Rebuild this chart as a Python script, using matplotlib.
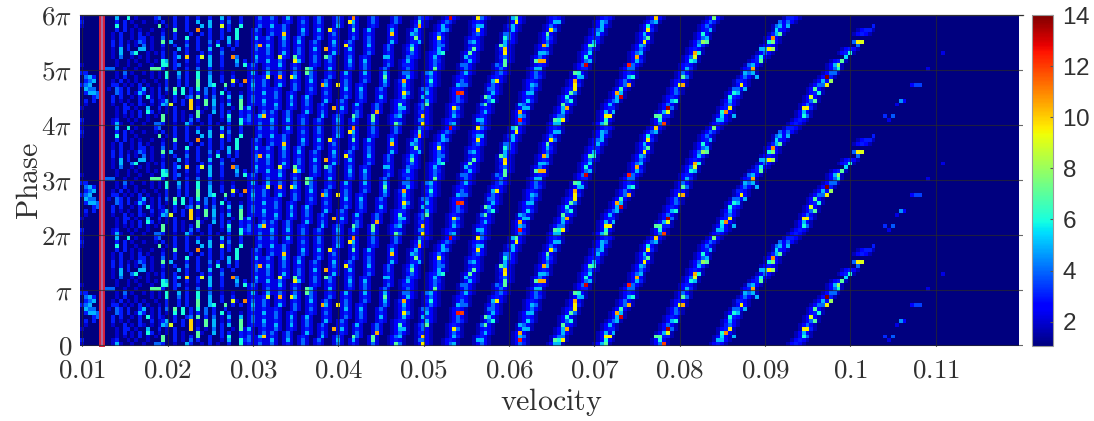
import matplotlib
matplotlib.use("Agg")
import matplotlib.pyplot as plt
import numpy as np

plt.rcParams['mathtext.fontset'] = 'cm'
plt.rcParams['font.family'] = 'serif'
plt.rcParams['font.serif'] = ['cmr10', 'DejaVu Serif']
plt.rcParams['axes.formatter.use_mathtext'] = True

x_ticks = [0.01, 0.02, 0.03, 0.04, 0.05, 0.06, 0.07, 0.08, 0.09, 0.1, 0.11]
x_labels = ['0.01', '0.02', '0.03', '0.04', '0.05', '0.06', '0.07', '0.08', '0.09', '0.1', '0.11']
y_labels = [r'$0$', r'$\pi$', r'$2\pi$', r'$3\pi$', r'$4\pi$', r'$5\pi$', r'$6\pi$']
cbar_ticks = [2, 4, 6, 8, 10, 12, 14]

n_cols = 242
n_rows = 28   # one 2pi period, the picture repeats it three times

# low velocity part, one string per phase row, "col:hex level"
left_rows = [
    "0:2 8:2 9:5 10:2 13:2 16:2 19:4 20:4 21:3 24:2 27:5 28:3 31:2 33:3 35:2 38:3 41:6 42:2",
    "0:3 8:2 9:3 12:2 14:2 17:2 21:7 24:3 26:2 28:4 30:3 33:3 36:2 38:5 41:6 42:3",
    "9:2 11:2 13:2 15:3 17:2 19:2 21:7 24:3 26:2 28:3 30:7 33:3 36:3 38:6 41:3",
    "9:2 11:3 13:2 15:3 17:6 18:3 20:2 22:2 24:3 26:2 30:7 31:2 34:5 36:3 38:3 41:3",
    "0:2 9:2 11:3 12:3 14:2 17:5 20:3 22:2 24:3 28:a 30:3 32:2 34:4 36:3 39:2 41:7 42:2",
    "1:2 8:2 11:3 13:2 15:3 16:2 18:2 20:2 21:5 22:4 23:9 26:3 28:a 30:2 32:7 34:5 36:3 38:5 41:7",
    "1:3 3:3 8:3 10:2 12:2 15:3 18:3 20:2 21:3 22:5 24:3 26:3 28:a 30:2 32:7 34:5 36:2 38:3 41:7",
    "3:3 4:4 8:3 10:3 13:2 15:3 17:6 18:2 20:3 21:2 24:3 27:3 28:4 30:7 32:3 34:4 36:2 38:5 41:5",
    "1:3 2:5 3:5 4:4 9:4 10:3 12:3 14:2 15:5 16:3 18:2 20:3 22:2 24:6 26:6 28:3 30:3 32:4 34:3 36:6 38:3 41:2",
    "1:5 2:4 3:4 7:2 9:4 10:3 12:3 15:3 16:5 18:2 20:3 22:4 24:7 26:6 28:3 30:6 32:4 34:3 37:3",
    "0:3 1:4 2:5 8:3 9:3 11:2 13:2 15:3 17:2 20:2 22:3 25:3 27:3 30:7 33:5 34:6 37:7 39:3 41:3",
    "1:3 2:4 3:5 8:2 10:3 12:2 14:2 16:2 19:2 22:3 25:3 27:3 30:7 33:5 36:3 39:9 40:2 42:b",
    "1:4 2:5 3:3 9:2 11:3 14:2 18:2 20:2 22:6 25:4 27:3 30:6 33:5 36:3 39:3",
    "0:3 1:3 9:2 11:4 13:2 16:2 18:2 20:2 22:6 25:5 27:3 30:6 33:4 36:2 39:2",
    "6:4 7:4 8:4 11:2 14:2 18:7 19:7 20:7 21:3 24:3 27:3 30:4 33:3 36:2",
    "0:2 9:2 12:2 15:2 18:2 21:6 22:6 24:3 25:4 27:2 30:2 33:5 36:3 40:4 42:6",
    "9:2 12:2 14:2 17:2 19:2 21:6 22:5 24:3 27:3 30:3 33:5 36:3 40:5 42:3",
    "8:2 10:4 13:2 15:2 17:2 21:3 24:3 25:5 27:a 30:3 31:9 33:5 36:3 39:b 40:4",
    "8:2 10:5 13:4 14:6 17:2 19:2 21:3 24:3 27:3 31:3 33:3 36:4",
    "8:2 10:5 12:3 15:5 16:5 18:2 21:2 25:5 27:3 30:3 33:5 36:3 39:3",
    "8:3 10:3 12:3 14:2 16:4 18:2 21:3 24:3 27:4 30:3 33:3 35:6 38:3 40:3",
    "8:3 10:3 12:2 14:2 15:4 16:3 18:2 21:7 23:5 27:3 30:3 33:4 35:3 38:5 40:3",
    "8:2 10:3 13:2 15:3 16:3 18:2 21:4 24:3 27:6 30:3 33:3 36:3 38:5 40:6",
    "8:2 10:3 13:2 15:3 17:2 21:3 24:3 28:3 31:3 33:3 36:3 40:6",
    "9:3 11:3 13:2 15:2 18:2 21:2 24:7 27:3 30:b 33:3 36:3 38:3 40:6",
    "0:2 9:6 11:3 14:2 20:7 22:2 24:3 27:3 31:5 33:5 36:9 38:3 41:6",
    "0:3 9:3 11:3 13:2 16:2 19:2 21:3 24:3 27:3 30:5 33:5 36:3 38:4 41:3",
    "0:2 9:5 12:6 14:2 19:3 20:4 24:3 27:3 30:3 33:3 36:5 38:3 41:3",
]

# ridge column in each phase row, one list per turn of the spiral
turn01 = [43,43,43,43,43,44,44,44,44,44,44,44,44,44,44,44,45,45,45,45,45,45,45,45,45,46,46,46]
turn02 = [46,46,46,47,47,47,47,47,47,47,47,47,47,48,48,48,48,48,48,48,48,48,48,49,49,49,49,49]
turn03 = [49,49,49,49,50,50,50,50,50,50,51,51,51,51,51,51,51,52,52,52,52,52,52,52,52,52,53,53]
turn04 = [53,53,53,53,54,54,54,54,54,55,55,55,55,55,55,55,56,56,56,56,56,56,56,57,57,57,57,57]
turn05 = [57,57,57,58,58,58,58,58,59,59,59,59,59,59,59,60,60,60,60,60,60,60,61,61,61,61,61,61]
turn06 = [61,61,62,62,62,62,63,63,63,63,63,63,64,64,64,64,64,64,65,65,65,65,65,65,65,66,66,66]
turn07 = [66,66,66,67,67,67,67,68,68,68,68,68,68,68,69,69,69,69,69,69,69,69,70,70,70,70,70,70]
turn08 = [70,70,71,71,71,71,72,72,72,72,72,73,73,73,73,73,73,73,74,74,74,74,74,74,74,75,75,75]
turn09 = [75,75,75,76,76,76,77,77,77,77,78,78,78,78,78,79,79,79,79,79,79,80,80,80,80,80,81,81]
turn10 = [81,81,81,82,82,82,82,83,83,83,83,83,84,84,84,84,84,85,85,85,85,86,86,86,86,87,87,88]
turn11 = [88,88,88,88,88,88,89,89,89,89,90,90,90,90,91,91,91,91,91,92,92,92,92,92,93,93,94,95]
turn12 = [95,95,96,96,96,96,97,97,97,97,98,98,98,99,99,99,100,100,100,101,101,101,101,102,102,102,102,103]
turn13 = [103,103,103,104,104,104,105,105,106,106,106,107,107,108,108,108,109,109,109,109,109,110,110,110,111,111,112,112]
turn14 = [113,113,113,113,114,114,115,115,115,116,116,116,117,117,117,118,118,118,119,119,119,120,120,120,121,121,122,122]
turn15 = [122,123,123,124,124,125,125,125,126,126,127,127,128,128,129,129,130,130,130,131,131,132,132,133,133,134,134,135]
turn16 = [134,135,135,135,136,136,137,138,138,139,140,140,141,141,141,142,143,143,143,144,144,145,145,145,146,146,147,148]
turn17 = [149,149,150,150,151,151,152,152,153,153,154,154,155,155,156,156,157,157,158,158,159,159,160,160,161,161,162,163]
turn18 = [164,165,165,166,166,167,167,168,168,169,170,170,171,172,172,173,174,175,176,177,177,178,178,179,180,180,182,183]
turn19 = [184,185,186,186,187,187,188,188,189,189,190,191,192,193,194,194,195,195,197,198,199,200,200,201,202,203,204,205]
turn_cols = [turn01, turn02, turn03, turn04, turn05, turn06, turn07, turn08, turn09, turn10,
             turn11, turn12, turn13, turn14, turn15, turn16, turn17, turn18, turn19]

# level on the ridge for the same rows, '.' = ridge not visible
turn_levels = [
    "3443534434543534453443534434",
    "4354345353443543534453443534",
    "4534453443534435435344534435",
    "3544354534435443534435445343",
    "4435344534354453443534435344",
    "3454345343544353445345343544",
    "4543534435443534543534435453",
    "3544353445343544534354435344",
    "4435443534453544353445345344",
    "5344543534435443534453445343",
    "4453445354434534453544345344",
    "4344534453443544534435344534",
    "4535344534453443544353445344",
    "4453545344534453445344534453",
    "5645534653545634463445354563",
    "5645354563445344564454453645",
    "4635445344634453645354463445",
    "3545345364534435364534453543",
    "33453445344534453.33...33...",
]

# extra cell beside the ridge, even rows to the right and odd rows to the left
side_levels = [
    "4.3.5.3.4..3.4.3.4.3.3.5.3.4",
    ".4.3.3.5.4.3.4..3.5.4.3.4.3.",
    "5.3.4.3.5.4..3.4.5.3.4.3.3.4",
    ".5.3.4.3.4.5.3.4.3.3.5.4.3.5",
    "3.4.5.3.5.4.3.5.3.4.5.3.4.5.",
    "5.4.3.6.4.3.5.3.5.4.6.3.5.4.",
    "4.6.3.5.5.3.6.4.3.5.4.6.3.5.",
    "5.3.4.6.3.5.4.3.5.6.3.4.5.3.",
    ".5.4.3.6.4.3.5.4.3.5.6.3.4.3",
    "..4.3.5.3.4.3.5.3.6.4.......",
]

# single bright cells
hot_col = [186,187,186,188,189,190,189,192,192,193,194,197,196,195,195,200,201,199,203,204,
           207,209,208,211,212,210,215,216,214,218,222,
           178,179,180,178,177,178,175,173,175,173,174,170,171,169,167,166,165,165,168,180,182,
           163,160,161,161,158,158,155,154,155,151,151,149,148,150,
           135,135,136,137,138,139,139,141,141,143,145,146,146,148,
           124,122,125,124,126,127,127,127,127,130,131,131,134,
           113,113,113,115,115,118,119,117,118,119,120,121,122,
           104,104,106,106,107,109,109,109,109,108,109,111,112,112,
           96,96,97,98,97,101,100,102,102,103,
           88,88,89,89,90,91,92,93,93,95,
           81,82,82,83,83,83,85,86,87,87,87,
           75,76,75,78,80,78,
           47,48,51,54,58,58,62,66,65,70,70,69,64,70,63,63,68,52,51,55,55,46]
hot_row = [4,4,2,7,6,8,9,12,10,11,13,17,16,15,14,21,21,21,24,25,
           2,2,1,6,6,5,10,10,10,14,18,
           22,24,23,21,19,19,19,14,16,13,12,10,9,8,4,3,2,3,2,26,25,
           27,21,21,22,18,17,10,10,12,4,3,2,2,0,
           0,2,2,3,8,7,9,10,15,17,21,24,22,27,
           1,1,4,5,8,9,10,11,13,15,18,20,26,
           1,3,5,6,8,16,16,16,18,20,23,24,26,
           5,7,6,8,11,19,18,16,15,20,22,25,27,26,
           4,2,8,8,10,19,18,24,27,25,
           2,0,5,8,11,14,22,18,25,27,
           0,2,5,8,10,11,19,22,21,26,25,
           1,3,2,12,23,17,
           2,12,12,12,13,14,10,10,4,2,27,26,24,24,19,17,20,23,17,17,16,20]
hot_val = [9.5,9.5,6,9,7,6,7,14,9.5,8,4,5.5,7,8,6,9.5,9,4,3,3,
           3.2,3.8,2.2,4.5,2.5,2.2,3.5,3.5,2.5,2.2,2.2,
           11,5.5,7,7.5,9.5,8,5,10.5,7,5,5,9.5,5,5,9.5,11,5.5,6,5,4,5,
           7.5,8,7,5,10.5,9,10.5,9,7,13.5,9,7,7,12,
           7,9.5,9.5,5,10.5,13,6.5,10.5,12.5,10.5,9.5,9.5,7,10,
           9.5,7,10.5,7,7,9.5,9.5,10.5,7,13,5.5,7,5,
           12.5,10.5,5,5.5,5,10.5,10.5,7,5,10.5,7,9.5,5,
           7,7,6,5,9.5,10,9.5,7,7,7,6,5,7,9.5,
           9.5,5,12.5,12,5,7,7,9.5,9.5,5,
           10,9.5,7,5,6,7,9,6,5,13,
           7,5,6.5,9.5,5,10.5,7,7.5,5,7,10.5,
           7,10.5,7,7,10,5,
           10,9,10.5,9.5,7,7,10.5,9.5,10.5,7,11,9.5,9.5,7,10.5,7,9.5,10,9,7,9.5,10.5]

# faint band either side of a ridge, for the dense turns and for the wide ones
halo_dense = [2.2]
halo_wide = [2.6, 1.7]
n_dense = 9

period = np.ones((n_rows, n_cols))
for r, line in enumerate(left_rows):
    for item in line.split():
        c, ch = item.split(':')
        period[r, int(c)] = int(ch, 16)

for k, (cols, levels) in enumerate(zip(turn_cols, turn_levels)):
    halo = halo_dense if k < n_dense else halo_wide
    for r, (c, ch) in enumerate(zip(cols, levels)):
        if ch == '.':
            continue
        for off, lev in enumerate(halo, start=1):
            period[r, c - off] = max(period[r, c - off], lev)
            period[r, c + off] = max(period[r, c + off], lev)
        period[r, c] = max(period[r, c], int(ch, 16))

for cols, levels in zip(turn_cols[n_dense:], side_levels):
    for r, (c, ch) in enumerate(zip(cols, levels)):
        if ch != '.':
            side = c + 1 if r % 2 == 0 else c - 1
            period[r, side] = max(period[r, side], int(ch, 16))

for c, r, v in zip(hot_col, hot_row, hot_val):
    period[r, c] = v

grid = np.vstack([period, period, period, period[:1]])

dv = 0.01 / 22
dphi = 2 * np.pi / n_rows

fig = plt.figure(figsize=(10.94, 4.21), dpi=100)
ax = fig.add_axes([80.4 / 1094, (421 - 346.5) / 421, (1022.7 - 80.4) / 1094, (346.5 - 15) / 421])

im = ax.imshow(grid, origin='lower', aspect='auto', cmap='jet', vmin=1.05, vmax=14,
               interpolation='nearest',
               extent=[0.01 - dv / 2, 0.01 + (n_cols - 0.5) * dv, -dphi / 2, 6 * np.pi + dphi / 2])

ax.axvspan(0.01205, 0.01252, facecolor='#a8689f', edgecolor='#d8203c', linewidth=1.4, zorder=2)

ax.set_xlim(0.01 - dv / 2, 0.01 + 942.3 / 8535 - dv / 2)
ax.set_ylim(-dphi / 2 + 0.02, 6 * np.pi)
ax.set_xticks(x_ticks)
ax.set_xticklabels(['$' + s + '$' for s in x_labels])
ax.set_yticks(np.arange(7) * np.pi)
ax.set_yticklabels(y_labels)
ax.tick_params(length=0, labelsize=19.5, labelcolor='#303030')
ax.tick_params(axis='x', pad=8.5)
ax.tick_params(axis='y', pad=6)
ax.grid(True, color='#2a2a2a', linewidth=0.8, alpha=0.7)
ax.set_axisbelow(False)
for side in ['left', 'right', 'bottom']:
    ax.spines[side].set_visible(False)
ax.spines['top'].set_color('#444444')
ax.spines['top'].set_linewidth(0.9)

ax.set_xlabel(r'$\mathrm{velocity}$', fontsize=21.5, color='#303030', labelpad=3)
ax.set_ylabel(r'$\mathrm{Phase}$', fontsize=21.5, color='#303030', labelpad=-2)

cax = fig.add_axes([1031.7 / 1094, (421 - 346) / 421, 21 / 1094, 331 / 421])
cb = fig.colorbar(im, cax=cax, ticks=cbar_ticks)
cb.outline.set_edgecolor('#999999')
cb.ax.tick_params(length=2, direction='in', color='#555555', labelsize=17.5, labelcolor='#303030', pad=7)
for t in cb.ax.get_yticklabels():
    t.set_family(['Liberation Sans', 'DejaVu Sans'])

fig.savefig('out.png', dpi=100)
